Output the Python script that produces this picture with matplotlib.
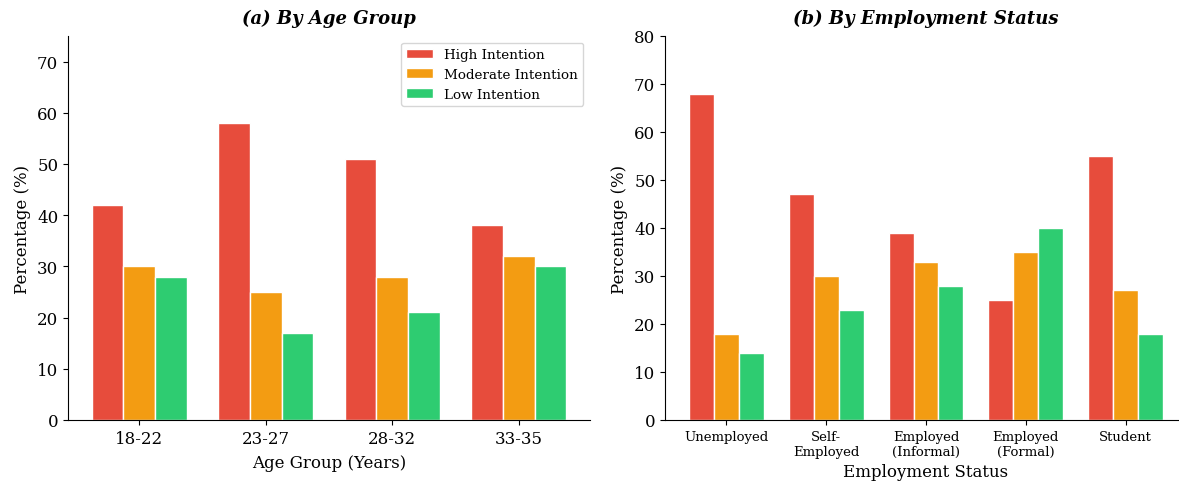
import matplotlib
matplotlib.use('Agg')
import matplotlib.pyplot as plt
import numpy as np

plt.rcParams['font.family'] = 'DejaVu Serif'

# Data
age_groups = ['18-22', '23-27', '28-32', '33-35']
age_high = [42, 58, 51, 38]
age_moderate = [30, 25, 28, 32]
age_low = [28, 17, 21, 30]

emp_status = ['Unemployed', 'Self-\nEmployed', 'Employed\n(Informal)',
              'Employed\n(Formal)', 'Student']
emp_high = [68, 47, 39, 25, 55]
emp_moderate = [18, 30, 33, 35, 27]
emp_low = [14, 23, 28, 40, 18]

series_labels = ['High Intention', 'Moderate Intention', 'Low Intention']
colors = ['#e74c3c', '#f39c12', '#2ecc71']
width = 0.25

W, H = 1179, 489
fig = plt.figure(figsize=(W / 100, H / 100), dpi=100)
# axes boxes in pixels: left, bottom, width, height
ax1 = fig.add_axes([68 / W, 68 / H, 522 / W, 384 / H])
ax2 = fig.add_axes([665 / W, 68 / H, 522 / W, 384 / H])

# (a) age group
x = np.arange(len(age_groups))
for i, (vals, lab) in enumerate(zip([age_high, age_moderate, age_low], series_labels)):
    ax1.bar(x + (i - 1) * width, vals, width, label=lab, color=colors[i],
            edgecolor='white', linewidth=1)
ax1.set_xticks(x)
ax1.set_xticklabels(age_groups, fontsize=12)
ax1.tick_params(axis='y', labelsize=12)
ax1.set_ylim(0, 75)
ax1.set_xlabel('Age Group (Years)', fontsize=12, labelpad=5)
ax1.set_ylabel('Percentage (%)', fontsize=12)
ax1.set_title('(a) By Age Group', fontsize=13, fontweight='bold',
              fontstyle='italic', pad=9)
ax1.legend(loc='upper right', fontsize=9.7)

# (b) employment status
x2 = np.arange(len(emp_status))
for i, (vals, lab) in enumerate(zip([emp_high, emp_moderate, emp_low], series_labels)):
    ax2.bar(x2 + (i - 1) * width, vals, width, label=lab, color=colors[i],
            edgecolor='white', linewidth=1)
ax2.set_xticks(x2)
ax2.set_xticklabels(emp_status, fontsize=9.5)
ax2.tick_params(axis='y', labelsize=12)
ax2.set_ylim(0, 80)
ax2.set_xlabel('Employment Status', fontsize=12)
ax2.set_ylabel('Percentage (%)', fontsize=12)
ax2.set_title('(b) By Employment Status', fontsize=13, fontweight='bold',
              fontstyle='italic', pad=9)

for ax in (ax1, ax2):
    ax.spines['top'].set_visible(False)
    ax.spines['right'].set_visible(False)

plt.savefig('out.png', dpi=100)
